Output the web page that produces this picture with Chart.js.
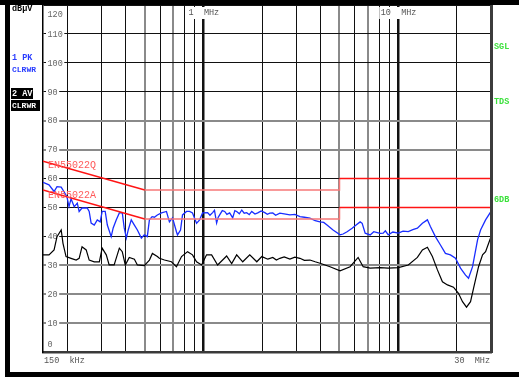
<!DOCTYPE html>
<html>
<head>
<meta charset="utf-8">
<script src="https://cdn.jsdelivr.net/npm/chart.js@4.4.1/dist/chart.umd.min.js"></script>
<style>
html,body{margin:0;padding:0;background:#fff;}
canvas{display:block;}
</style>
</head>
<body>
<canvas id="c" width="519" height="379"></canvas>
<script>
// ---- data (frequency in MHz, level in dBµV) ----
const pkFreq = [0.15,0.161,0.171,0.177,0.186,0.192,0.199,0.204,0.209,0.217,0.225,0.230,0.238,0.253,0.259,0.265,0.275,0.285,0.295,0.302,0.313,0.321,0.336,0.344,0.357,0.370,0.383,0.392,0.402,0.411,0.426,0.442,0.458,0.480,0.497,0.515,0.528,0.545,0.560,0.580,0.609,0.646,0.669,0.694,0.727,0.736,0.763,0.781,0.819,0.849,0.879,0.922,0.956,0.990,1.051,1.08,1.115,1.14,1.169,1.19,1.212,1.25,1.286,1.32,1.364,1.414,1.45,1.482,1.53,1.574,1.62,1.669,1.72,1.771,1.84,1.902,1.98,2.067,2.13,2.193,2.272,2.35,2.470,2.6,2.781,2.95,3.131,3.3,3.525,3.75,3.970,4.15,4.314,4.633,5.034,5.216,5.470,5.805,6.085,6.382,6.537,6.773,7.186,7.5,7.810,8.093,8.385,8.6,8.898,9.4,10.02,10.6,11.28,11.9,12.56,13.33,14.14,14.65,15.54,16.50,17.50,18.57,19.71,20.92,22.20,23.00,24.12,25.59,26.52,28.14,30];
const pkLevel = [58.7,57.8,55.5,57.2,57.0,55.5,53.7,50.3,53.0,50.2,51.5,48.6,49.8,49.8,48.6,44.6,43.9,45.7,45.0,48.6,48.6,43.9,39.9,42.9,45.7,48.1,48.2,42.9,39.4,42.2,45.7,43.9,42.2,39.4,40.5,39.9,45.7,46.8,46.6,47.4,48.1,48.6,45.0,46.4,41.6,40.5,42.2,47.4,48.6,48.6,48.1,44.5,45.7,48.1,48.2,47.3,48.2,49.0,44.6,46.5,47.4,48.9,48.6,47.6,48.1,46.4,48.9,48.6,47.8,49.1,48.0,48.2,47.5,48.6,47.7,48.1,48.8,48.2,47.6,48.0,48.1,47.3,48.0,47.8,47.4,47.6,46.8,46.6,46.3,45.4,45.0,44.8,43.9,42.2,40.5,40.8,41.6,42.8,43.9,45.0,44.5,41.1,40.5,41.6,41.3,41.0,41.1,41.9,40.5,41.5,41.1,41.8,41.6,42.3,42.8,44.5,45.7,43.4,39.9,37.0,34.1,33.6,32.4,29.0,26.6,25.5,29.5,38.8,42.2,45.7,48.6];

const avFreq = [0.15,0.161,0.171,0.177,0.186,0.190,0.197,0.209,0.222,0.230,0.238,0.250,0.259,0.275,0.292,0.302,0.317,0.328,0.348,0.370,0.383,0.397,0.416,0.442,0.458,0.497,0.528,0.547,0.580,0.594,0.631,0.685,0.727,0.772,0.829,0.879,0.922,0.979,1.038,1.102,1.183,1.316,1.397,1.482,1.592,1.730,1.880,1.995,2.142,2.272,2.37,2.470,2.6,2.781,2.95,3.131,3.3,3.525,3.75,3.970,4.470,5.034,5.668,6.232,6.615,7.186,8.093,8.898,10.02,11.28,12.56,13.33,14.14,15.0,15.92,16.89,17.93,19.25,20.42,21.42,22.46,23.55,24.40,25.89,27.15,28.14,30];
const avLevel = [33.6,33.6,35.3,39.9,42.2,37.6,33.0,32.4,31.8,32.4,36.4,35.3,31.8,31.2,31.2,35.9,33.6,30.1,30.1,35.9,34.7,30.1,32.7,32.1,30.1,29.9,31.8,34.1,33.0,32.4,31.8,31.2,29.5,33.0,34.7,33.6,31.2,30.1,33.6,33.6,30.1,33.2,30.6,33.6,31.2,33.6,31.2,33.0,32.1,32.7,31.8,32.4,32.9,32.1,32.8,32.4,31.7,31.8,31.2,30.7,29.5,28.1,29.5,32.7,29.5,29.0,29.2,29.0,29.2,30.1,32.7,35.3,36.2,33.0,28.4,24.3,23.2,22.4,20.3,17.4,15.5,17.4,22.0,29.5,33.6,34.7,39.9];

const qpLimitFreq  = [0.15,0.5,5,5,30];
const qpLimitLevel = [66,56,56,60,60];
const avLimitFreq  = [0.15,0.5,5,5,30];
const avLimitLevel = [56,46,46,50,50];

const yTicks = [0,10,20,30,40,50,60,70,80,90,100,110,120];
const xGridFreqs = [0.2,0.3,0.4,0.5,0.6,0.7,0.8,0.9,1,2,3,4,5,6,7,8,9,10,20];
const xLabelStart = '150  kHz', xLabelEnd = '30  MHz';
const xTopLabels = [[1,'1  MHz'],[10,'10  MHz']];

// ---- helpers ----
const pts = (fx, fy) => fx.map((f, i) => ({x: f, y: fy[i]}));
const PINK = 'rgb(246,120,120)', RED = 'rgb(255,20,20)';
const limitSeg = ctx => (ctx.p0.parsed.x >= 0.5 && ctx.p1.parsed.x <= 5) ? PINK : RED;
const MONO = "'Liberation Mono','DejaVu Sans Mono',monospace";

const decor = {
  id: 'decor',
  beforeDatasetsDraw(chart) {
    const c = chart.ctx, xs = chart.scales.x, ys = chart.scales.y, a = chart.chartArea;
    c.save();
    // y tick labels inside plot with white backdrop
    c.font = "8.5px " + MONO;
    c.textBaseline = 'middle';
    c.textAlign = 'left';
    yTicks.forEach(v => {
      let y = ys.getPixelForValue(v);
      if (v === 120) y += 9;
      if (v === 0) y -= 8;
      const t = String(v);
      const w = c.measureText(t).width;
      c.fillStyle = '#fff';
      c.fillRect(a.left + 3, y - 4, w + 3, 8);
      c.fillStyle = '#666';
      c.fillText(t, a.left + 4.5, y + 0.5);
    });
    // top frequency labels
    c.textAlign = 'center';
    xTopLabels.forEach(([f, t]) => {
      const x = xs.getPixelForValue(f);
      const w = c.measureText(t).width;
      c.fillStyle = '#fff';
      c.fillRect(x - w / 2 - 1, a.top + 2, w + 2, 12);
      c.fillStyle = '#555';
      c.fillText(t, x + 0.5, a.top + 8);
    });
    c.restore();
  },
  afterDatasetsDraw(chart) {
    const c = chart.ctx, xs = chart.scales.x, ys = chart.scales.y, a = chart.chartArea;
    c.save();
    // limit labels
    c.font = "10px " + MONO;
    c.textBaseline = 'middle';
    c.textAlign = 'left';
    c.fillStyle = 'rgb(255,90,90)';
    c.fillText('EN55022Q', a.left + 5, ys.getPixelForValue(64.4));
    c.fillText('EN55022A', a.left + 5, ys.getPixelForValue(54.1));
    // right plot border
    c.fillStyle = '#3c3c3c';
    c.fillRect(a.right - 1, a.top, 3, a.bottom - a.top + 1);
    // outer frame
    c.fillStyle = '#000';
    c.fillRect(0, 0, 519, 5);
    c.fillRect(5, 0, 5, 377);
    c.fillRect(7, 372, 512, 5);
    // bottom frequency labels
    c.font = "8.5px " + MONO;
    c.fillStyle = '#555';
    c.textAlign = 'left';
    c.fillText(xLabelStart, a.left + 1, 361);
    c.textAlign = 'right';
    c.fillText(xLabelEnd, a.right - 1, 361);
    // left panel
    c.textAlign = 'left';
    c.font = "bold 8.5px " + MONO;
    c.fillStyle = '#000';
    c.fillText('dBµV', 12, 9);
    c.fillStyle = 'rgb(40,60,255)';
    c.fillText('1 PK', 12, 58);
    c.font = "bold 8px " + MONO;
    c.fillText('CLRWR', 12, 70);
    c.fillStyle = '#000';
    c.fillRect(11, 88, 22, 11);
    c.fillRect(11, 100, 29, 11);
    c.fillStyle = '#fff';
    c.font = "bold 8.5px " + MONO;
    c.fillText('2 AV', 12, 94);
    c.font = "bold 8px " + MONO;
    c.fillText('CLRWR', 12, 105.5);
    // right side status
    c.font = "bold 8.5px " + MONO;
    c.fillStyle = 'rgb(60,225,60)';
    c.fillText('SGL', 494, 47);
    c.fillText('TDS', 494, 102);
    c.fillText('6DB', 494, 200);
    c.restore();
  }
};

const xGray = v => (v === 0.5 || v === 0.7 || v === 5 || v === 7);
const yGray = v => (v === 80 || v === 70 || v === 30 || v === 20 || v === 10);

new Chart(document.getElementById('c'), {
  type: 'line',
  data: {
    datasets: [
      {data: pts(qpLimitFreq, qpLimitLevel), borderColor: RED, borderWidth: 1.5, pointRadius: 0, segment: {borderColor: limitSeg}},
      {data: pts(avLimitFreq, avLimitLevel), borderColor: RED, borderWidth: 1.5, pointRadius: 0, segment: {borderColor: limitSeg}},
      {data: pts(avFreq, avLevel), borderColor: '#000', borderWidth: 1.2, pointRadius: 0, tension: 0},
      {data: pts(pkFreq, pkLevel), borderColor: 'rgb(25,45,255)', borderWidth: 1.3, pointRadius: 0, tension: 0}
    ]
  },
  options: {
    responsive: false,
    animation: false,
    devicePixelRatio: 1,
    layout: {padding: {left: 43, right: 28, top: 5, bottom: 27}},
    plugins: {legend: {display: false}, tooltip: {enabled: false}},
    scales: {
      x: {
        type: 'logarithmic', min: 0.15, max: 30,
        afterBuildTicks: s => { s.ticks = xGridFreqs.map(v => ({value: v})); },
        afterFit: s => { s.height = 0; },
        ticks: {display: false},
        grid: {
          drawTicks: false,
          color: ctx => xGray(ctx.tick.value) ? '#8a8a8a' : '#111',
          lineWidth: ctx => (ctx.tick.value === 1 || ctx.tick.value === 10) ? 2.5 : (xGray(ctx.tick.value) ? 2 : 1)
        },
        border: {display: true, color: '#3a3a3a', width: 2.5}
      },
      y: {
        min: 0, max: 120,
        afterBuildTicks: s => { s.ticks = yTicks.map(v => ({value: v})); },
        afterFit: s => { s.width = 0; },
        ticks: {display: false},
        grid: {
          drawTicks: false,
          color: ctx => yGray(ctx.tick.value) ? '#8a8a8a' : '#111',
          lineWidth: ctx => yGray(ctx.tick.value) ? 2 : 1
        },
        border: {display: true, color: '#000', width: 1.5}
      }
    }
  },
  plugins: [decor]
});
</script>
</body>
</html>
